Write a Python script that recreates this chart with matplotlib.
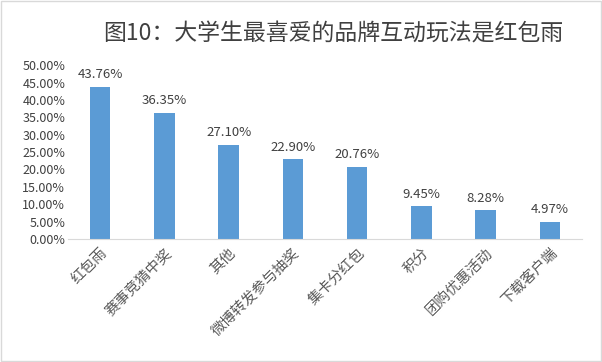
import matplotlib.pyplot as plt
from matplotlib.ticker import FuncFormatter, MultipleLocator
from matplotlib.patches import Rectangle

plt.rcParams['font.family'] = ['Noto Sans CJK SC', 'DejaVu Sans']

# data
categories = ['红包雨', '赛事竞猜中奖', '其他', '微博转发参与抽奖',
              '集卡分红包', '积分', '团购优惠活动', '下载客户端']
shares = [43.76, 36.35, 27.10, 22.90, 20.76, 9.45, 8.28, 4.97]
title = '图10：大学生最喜爱的品牌互动玩法是红包雨'

fig = plt.figure(figsize=(6.02, 3.62), dpi=100)
ax = fig.add_axes([0.113, 0.340, 0.854, 0.480])

x = range(len(categories))
ax.bar(x, shares, width=0.32, color='#5B9BD5')
for i, v in zip(x, shares):
    ax.text(i, v + 1.6, f'{v:.2f}%', ha='center', va='bottom',
            fontsize=9.5, color='#404040')

ax.set_xlim(-0.5, len(categories) - 0.5)
ax.set_ylim(0, 50)
ax.yaxis.set_major_locator(MultipleLocator(5))
ax.yaxis.set_major_formatter(FuncFormatter(lambda v, p: f'{v:.2f}%'))
ax.set_xticks(list(x))
ax.set_xticklabels(categories, rotation=45, ha='right', rotation_mode='anchor',
                   fontsize=10.5, color='#595959')
ax.tick_params(axis='y', length=0, labelsize=9, labelcolor='#404040', pad=2)
ax.tick_params(axis='x', length=0, pad=5)

for s in ['top', 'right', 'left']:
    ax.spines[s].set_visible(False)
ax.spines['bottom'].set_color('#D9D9D9')

fig.text(0.553, 0.905, title, ha='center', va='center', fontsize=16.5, color='#404040')

# light border round the chart
fig.patches.append(Rectangle((0.002, 0.003), 0.996, 0.994, transform=fig.transFigure,
                             fill=False, edgecolor='#D9D9D9', linewidth=1))

fig.savefig('out.png', dpi=100)
